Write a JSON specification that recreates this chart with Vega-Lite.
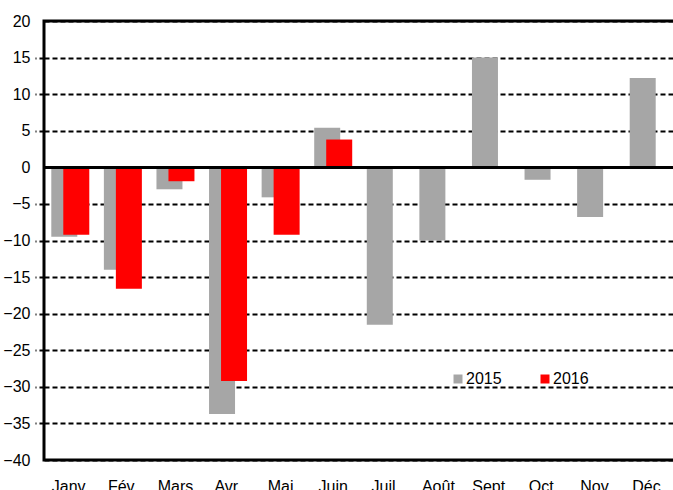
{
  "$schema": "https://vega.github.io/schema/vega-lite/v6.json",
  "width": 631,
  "height": 439,
  "autosize": {"type": "none"},
  "padding": {"left": 44, "top": 21, "right": 0, "bottom": 30},
  "config": {
    "font": "Liberation Sans, Arial, sans-serif",
    "view": {"stroke": "black", "strokeWidth": 3},
    "axisY": {
      "title": null,
      "values": [-40, -35, -30, -25, -20, -15, -10, -5, 0, 5, 10, 15, 20],
      "labelOverlap": false,
      "domain": false,
      "grid": true,
      "gridColor": "black",
      "gridDash": [5, 3],
      "gridWidth": 1.8,
      "gridOpacity": 1,
      "ticks": true,
      "tickSize": 9,
      "tickColor": "black",
      "tickDash": [5, 3],
      "tickWidth": 1.8,
      "tickOpacity": {"condition": {"test": "datum.value === 0 || datum.value === 20 || datum.value === -40", "value": 0}, "value": 1},
      "labelPadding": 5,
      "labelFontSize": 16,
      "labelColor": "black"
    }
  },
  "data": {
    "values": [
      {"month": "Janv.", "year": "2015", "value": -9.5},
      {"month": "Fév.", "year": "2015", "value": -14.0},
      {"month": "Mars", "year": "2015", "value": -3.0},
      {"month": "Avr.", "year": "2015", "value": -33.7},
      {"month": "Mai", "year": "2015", "value": -4.1},
      {"month": "Juin", "year": "2015", "value": 5.4},
      {"month": "Juil.", "year": "2015", "value": -21.5},
      {"month": "Août", "year": "2015", "value": -10.0},
      {"month": "Sept.", "year": "2015", "value": 15.0},
      {"month": "Oct.", "year": "2015", "value": -1.7},
      {"month": "Nov.", "year": "2015", "value": -6.8},
      {"month": "Déc.", "year": "2015", "value": 12.2},
      {"month": "Janv.", "year": "2016", "value": -9.2},
      {"month": "Fév.", "year": "2016", "value": -16.6},
      {"month": "Mars", "year": "2016", "value": -1.9},
      {"month": "Avr.", "year": "2016", "value": -29.2},
      {"month": "Mai", "year": "2016", "value": -9.2},
      {"month": "Juin", "year": "2016", "value": 3.8}
    ]
  },
  "encoding": {
    "x": {
      "field": "month",
      "type": "nominal",
      "sort": null,
      "scale": {"paddingInner": 0, "paddingOuter": 0},
      "axis": {
        "title": null,
        "domain": false,
        "ticks": false,
        "grid": false,
        "labelAngle": 0,
        "labelPadding": 18,
        "labelFontSize": 16,
        "labelColor": "black"
      }
    },
    "y": {
      "field": "value",
      "type": "quantitative",
      "scale": {"domain": [-40, 20], "nice": false, "zero": false},
      "axis": {"values": [-40, -35, -30, -25, -20, -15, -10, -5, 0, 5, 10, 15, 20]}
    },
    "color": {
      "field": "year",
      "type": "nominal",
      "scale": {"domain": ["2015", "2016"], "range": ["#A6A6A6", "#FF0000"]},
      "legend": {
        "title": null,
        "orient": "none",
        "legendX": 406,
        "legendY": 350,
        "direction": "horizontal",
        "symbolType": "square",
        "symbolSize": 81,
        "symbolStrokeWidth": 0,
        "labelFontSize": 16,
        "labelColor": "black",
        "labelOffset": 0,
        "columnPadding": 35
      }
    }
  },
  "layer": [
    {
      "transform": [{"filter": "datum.year === '2015'"}],
      "mark": {"type": "bar", "width": 26, "xOffset": -6}
    },
    {
      "transform": [{"filter": "datum.year === '2016'"}],
      "mark": {"type": "bar", "width": 26, "xOffset": 6}
    },
    {
      "mark": {"type": "rule", "color": "black", "strokeWidth": 2.5},
      "encoding": {
        "y": {"datum": 0, "type": "quantitative", "axis": {"values": [-40, -35, -30, -25, -20, -15, -10, -5, 0, 5, 10, 15, 20]}},
        "x": {"value": 0},
        "x2": {"value": 631},
        "color": {"value": "black"}
      }
    }
  ]
}
